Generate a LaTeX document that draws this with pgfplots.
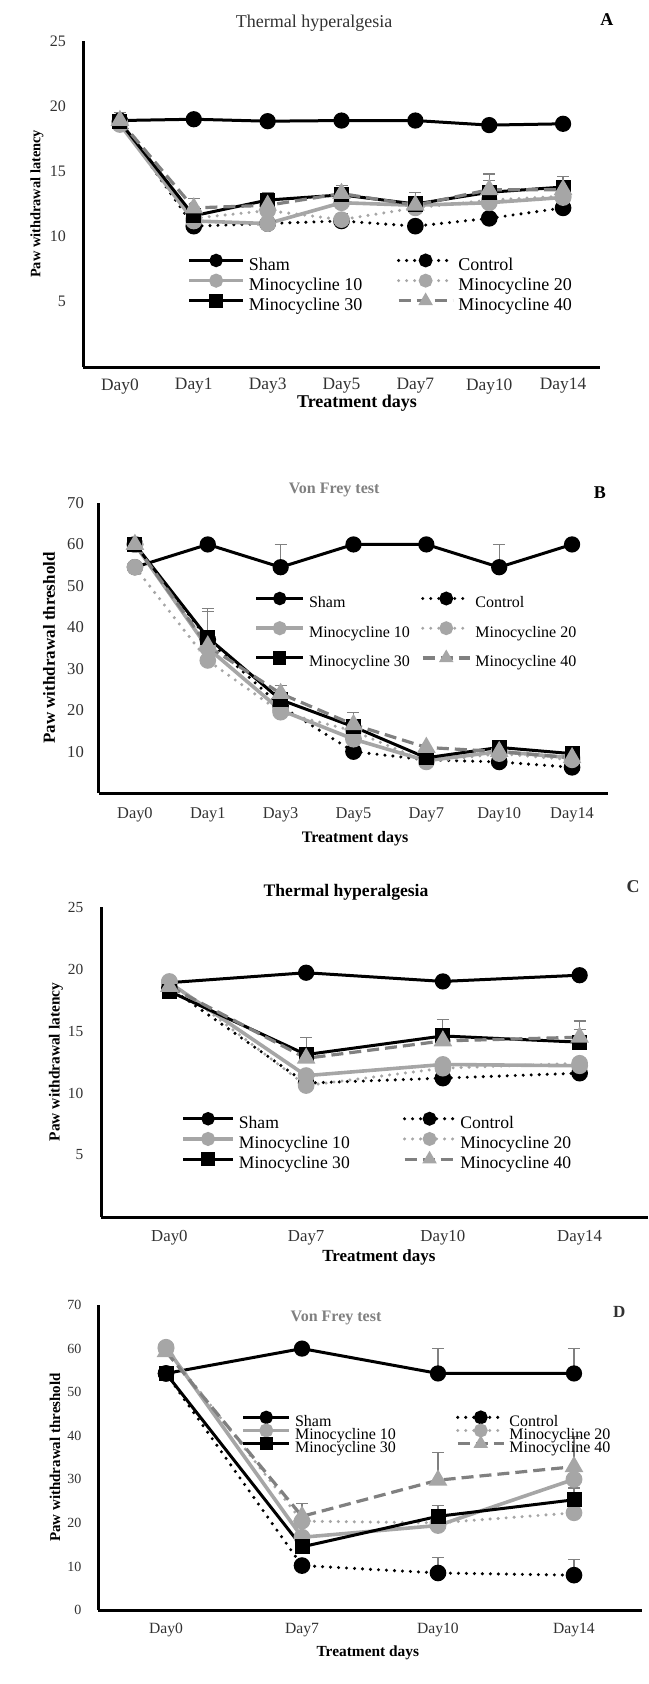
\documentclass[border=0pt]{standalone}
\usepackage{fontspec}
\setmainfont{Liberation Serif}
\usepackage{pgfplots}
\pgfplotsset{compat=1.18}

\definecolor{lgray}{RGB}{166,166,166}
\definecolor{dgray}{RGB}{128,128,128}
\definecolor{txt}{RGB}{50,50,50}

\newlength\legline
\setlength\legline{27pt}
\newcommand\fs[1]{\fontsize{#1}{#1}\selectfont}

\pgfplotsset{
  legend image code/.code={%
    \draw[mark repeat=2,mark phase=2,#1,mark size=2.6pt] plot coordinates {(0pt,2.5pt) ({0.5*\legline},2.5pt) (\legline,2.5pt)};},
  panel/.style={
    scale only axis, clip=false, enlargelimits=false,
    axis x line*=bottom, axis y line*=left,
    axis line style={line width=1.5pt,-},
    major tick length=0pt,
    xmin=-0.5, ymin=0,
    tick label style={text=txt},
    /pgf/number format/assume math mode=true,
    legend columns=2, legend cell align=left,
  },
  sham/.style={black, line width=1.5pt, solid, mark=*, mark size=3.3pt, mark options={solid, fill=black}},
  ctrl/.style={black, line width=1.7pt, line cap=round, dash pattern=on 0pt off 4pt, mark=*, mark size=3.3pt, mark options={solid, fill=black}},
  mten/.style={lgray, line width=1.8pt, solid, mark=*, mark size=3.3pt, mark options={solid, fill=lgray}},
  mtwenty/.style={lgray, line width=1.7pt, line cap=round, dash pattern=on 0pt off 4pt, mark=*, mark size=3.3pt, mark options={solid, fill=lgray}},
  mthirty/.style={black, line width=1.5pt, solid, mark=square*, mark size=3pt, mark options={solid, fill=black}},
  mforty/.style={dgray, line width=1.6pt, dash pattern=on 6pt off 3pt, mark=triangle*, mark size=3.8pt, mark options={solid, fill=lgray, draw=lgray}},
  err/.style={forget plot, draw=none, mark=none,
    error bars/.cd, y dir=plus, y explicit,
    error bar style={draw=dgray, line width=0.6pt, solid},
    error mark options={draw=dgray, rotate=90, mark size=3pt, line width=0.6pt}},
}

\begin{document}
\begin{tikzpicture}
\path[use as bounding box] (0,0) rectangle (324pt,-842pt);

% ---------- A
\setlength\legline{27pt}
\begin{axis}[panel,
  at={(41.5pt,-183.5pt)}, anchor=south west,
  width=258.5pt, height=163pt,
  xmax=6.5, ymax=25,
  xtick={0,...,6}, xticklabels={Day0,Day1,Day3,Day5,Day7,Day10,Day14},
  ytick={5,10,15,20,25},
  yticklabel style={font=\fs{8}, xshift=-5pt},
  xticklabel style={font=\fs{8.7}, yshift=-2.2pt},
  legend style={at={(0.201,0.344)}, anchor=north west, draw=none, fill=none,
    inner sep=0pt, column sep=2pt, row sep=1pt, font=\fs{9},
    nodes={inner sep=0pt, text height=6.3pt, text depth=1.7pt}},
]
\addplot[err] coordinates {(0,18.9) +- (0,0.6) (1,12.2) +- (0,0.75) (2,12.8) +- (0,0.6) (3,13.2) +- (0,0.7) (4,12.4) +- (0,1.0) (5,13.6) +- (0,1.2) (5,13.4) +- (0,0.9) (6,13.8) +- (0,0.8) (3,11.3) +- (0,0.5)};
\addplot[sham] coordinates {(0,18.9)(1,19.0)(2,18.85)(3,18.9)(4,18.9)(5,18.55)(6,18.65)};
\addlegendentry{\makebox[72pt][l]{Sham}}
\addplot[ctrl] coordinates {(0,18.8)(1,10.8)(2,11.0)(3,11.2)(4,10.8)(5,11.4)(6,12.2)};
\addlegendentry{Control}
\addplot[mten] coordinates {(0,18.6)(1,11.2)(2,11.0)(3,12.6)(4,12.4)(5,12.6)(6,13.0)};
\addlegendentry{\makebox[72pt][l]{Minocycline 10}}
\addplot[mtwenty] coordinates {(0,18.7)(1,11.4)(2,12.0)(3,11.3)(4,12.2)(5,12.8)(6,13.1)};
\addlegendentry{Minocycline 20}
\addplot[mthirty] coordinates {(0,18.8)(1,11.6)(2,12.8)(3,13.2)(4,12.5)(5,13.4)(6,13.8)};
\addlegendentry{\makebox[72pt][l]{Minocycline 30}}
\addplot[mforty] coordinates {(0,18.9)(1,12.2)(2,12.4)(3,13.3)(4,12.4)(5,13.6)(6,13.6)};
\addlegendentry{Minocycline 40}
\node[font=\fs{9}, text=txt] at ([yshift=9pt]axis description cs:0.447,1) {Thermal hyperalgesia};
\node[font=\bfseries\fs{9}] at ([yshift=10.5pt]axis description cs:1.0135,1) {A};
\node[rotate=90, font=\bfseries\fs{7.2}] at ([xshift=-23pt]axis description cs:0,0.5) {Paw withdrawal latency};
\node[font=\bfseries\fs{9}] at ([yshift=-18pt]axis description cs:0.53,0) {Treatment days};
\end{axis}

% ---------- B
\setlength\legline{23.5pt}
\begin{axis}[panel,
  at={(49.25pt,-396.5pt)}, anchor=south west,
  width=255pt, height=145pt,
  xmax=6.5, ymax=70,
  xtick={0,...,6}, xticklabels={Day0,Day1,Day3,Day5,Day7,Day10,Day14},
  ytick={10,20,30,40,50,60,70},
  yticklabel style={font=\fs{8.3}, xshift=-3.8pt},
  xticklabel style={font=\fs{8.2}, yshift=-4pt},
  legend style={at={(0.305,0.69)}, anchor=north west, draw=none, fill=none,
    inner sep=0pt, column sep=2pt, row sep=5.75pt, font=\fs{8},
    nodes={inner sep=0pt, text height=6pt, text depth=2pt}},
]
\addplot[err] coordinates {(2,54.5) +- (0,5.5) (5,54.5) +- (0,5.5) (1,37.5) +- (0,7) (1,35.5) +- (0,8.3) (2,24) +- (0,2) (3,16.5) +- (0,3)};
\addplot[sham] coordinates {(0,54.5)(1,60)(2,54.5)(3,60)(4,60)(5,54.5)(6,60)};
\addlegendentry{\makebox[54pt][l]{Sham}}
\addplot[ctrl] coordinates {(0,60)(1,37)(2,21)(3,10)(4,8)(5,7.5)(6,6.2)};
\addlegendentry{Control}
\addplot[mten] coordinates {(0,60)(1,35)(2,20)(3,13)(4,7.8)(5,10)(6,8.5)};
\addlegendentry{\makebox[54pt][l]{Minocycline 10}}
\addplot[mtwenty] coordinates {(0,54.5)(1,32)(2,19.5)(3,15)(4,7.5)(5,9.5)(6,8)};
\addlegendentry{Minocycline 20}
\addplot[mthirty] coordinates {(0,60)(1,37.5)(2,22.5)(3,16)(4,8.5)(5,11)(6,9.5)};
\addlegendentry{\makebox[54pt][l]{Minocycline 30}}
\addplot[mforty] coordinates {(0,60)(1,35.5)(2,24)(3,16.5)(4,11)(5,10)(6,8.5)};
\addlegendentry{Minocycline 40}
\node[font=\bfseries\fs{8}, text=dgray] at ([yshift=6.5pt]axis description cs:0.462,1) {Von Frey test};
\node[font=\bfseries\fs{9}] at ([yshift=5pt]axis description cs:0.983,1) {B};
\node[rotate=90, font=\bfseries\fs{8.5}] at ([xshift=-24.75pt]axis description cs:0,0.5) {Paw withdrawal threshold};
\node[font=\bfseries\fs{8}] at ([yshift=-23pt]axis description cs:0.503,0) {Treatment days};
\end{axis}

% ---------- C
\setlength\legline{25pt}
\begin{axis}[panel,
  at={(50.5pt,-608.5pt)}, anchor=south west,
  width=273.5pt, height=155pt,
  xmax=3.5, ymax=25,
  xtick={0,...,3}, xticklabels={Day0,Day7,Day10,Day14},
  ytick={5,10,15,20,25},
  yticklabel style={font=\fs{7.7}, xshift=-5.3pt},
  xticklabel style={font=\fs{8.4}, yshift=-3pt},
  legend style={at={(0.146,0.335)}, anchor=north west, draw=none, fill=none,
    inner sep=0pt, column sep=2pt, row sep=1pt, font=\fs{8.8},
    nodes={inner sep=0pt, text height=6.2pt, text depth=1.8pt}},
]
\addplot[err] coordinates {(1,13.1) +- (0,1.4) (2,14.6) +- (0,1.3) (3,14.5) +- (0,1.3) (3,14.1) +- (0,1.0)};
\addplot[sham] coordinates {(0,18.9)(1,19.7)(2,19.0)(3,19.5)};
\addlegendentry{\makebox[80pt][l]{Sham}}
\addplot[ctrl] coordinates {(0,18.5)(1,10.8)(2,11.2)(3,11.6)};
\addlegendentry{Control}
\addplot[mten] coordinates {(0,18.9)(1,11.4)(2,12.3)(3,12.2)};
\addlegendentry{\makebox[80pt][l]{Minocycline 10}}
\addplot[mtwenty] coordinates {(0,19.0)(1,10.6)(2,12.0)(3,12.4)};
\addlegendentry{Minocycline 20}
\addplot[mthirty] coordinates {(0,18.2)(1,13.1)(2,14.6)(3,14.1)};
\addlegendentry{\makebox[80pt][l]{Minocycline 30}}
\addplot[mforty] coordinates {(0,18.6)(1,12.8)(2,14.2)(3,14.5)};
\addlegendentry{Minocycline 40}
\node[font=\bfseries\fs{8.8}] at ([yshift=7.5pt]axis description cs:0.448,1) {Thermal hyperalgesia};
\node[font=\bfseries\fs{9}, text=txt] at ([yshift=10pt]axis description cs:0.9726,1) {C};
\node[rotate=90, font=\bfseries\fs{7.7}] at ([xshift=-22.5pt]axis description cs:0,0.5) {Paw withdrawal latency};
\node[font=\bfseries\fs{8.5}] at ([yshift=-20pt]axis description cs:0.508,0) {Treatment days};
\end{axis}

% ---------- D
\setlength\legline{23pt}
\begin{axis}[panel,
  at={(49pt,-805pt)}, anchor=south west,
  width=272pt, height=152.5pt,
  xmax=3.5, ymax=70,
  xtick={0,...,3}, xticklabels={Day0,Day7,Day10,Day14},
  ytick={0,10,20,30,40,50,60,70},
  yticklabel style={font=\fs{7}, xshift=-4.8pt},
  xticklabel style={font=\fs{7.8}, yshift=-3pt},
  legend style={at={(0.263,0.65)}, anchor=north west, draw=none, fill=none,
    inner sep=0pt, column sep=2pt, row sep=-2.3pt, font=\fs{8},
    nodes={inner sep=0pt, text height=5.7pt, text depth=1.8pt}},
]
\addplot[err] coordinates {(2,54.3) +- (0,5.7) (3,54.3) +- (0,5.7) (2,8.5) +- (0,3.6) (3,8) +- (0,3.6) (1,21.5) +- (0,3) (2,29.8) +- (0,6.4) (3,32.9) +- (0,7) (2,21.5) +- (0,2.5) (3,25.3) +- (0,2.7)};
\addplot[sham] coordinates {(0,54.3)(1,60)(2,54.3)(3,54.3)};
\addlegendentry{\makebox[78.5pt][l]{Sham}}
\addplot[ctrl] coordinates {(0,54.3)(1,10.2)(2,8.5)(3,8)};
\addlegendentry{Control}
\addplot[mten] coordinates {(0,60.3)(1,16.7)(2,19.4)(3,30)};
\addlegendentry{\makebox[78.5pt][l]{Minocycline 10}}
\addplot[mtwenty] coordinates {(0,60)(1,20.4)(2,20)(3,22.3)};
\addlegendentry{Minocycline 20}
\addplot[mthirty] coordinates {(0,54.3)(1,14.5)(2,21.5)(3,25.3)};
\addlegendentry{\makebox[78.5pt][l]{Minocycline 30}}
\addplot[mforty] coordinates {(0,59.3)(1,21.5)(2,29.8)(3,32.9)};
\addlegendentry{Minocycline 40}
\node[font=\bfseries\fs{8}, text=dgray] at ([yshift=-6.5pt]axis description cs:0.4375,1) {Von Frey test};
\node[font=\bfseries\fs{8.5}, text=txt] at ([yshift=-3.5pt]axis description cs:0.958,1) {D};
\node[rotate=90, font=\bfseries\fs{7.5}] at ([xshift=-21.5pt]axis description cs:0,0.5) {Paw withdrawal threshold};
\node[font=\bfseries\fs{7.7}] at ([yshift=-21.5pt]axis description cs:0.496,0) {Treatment days};
\end{axis}
\end{tikzpicture}
\end{document}
